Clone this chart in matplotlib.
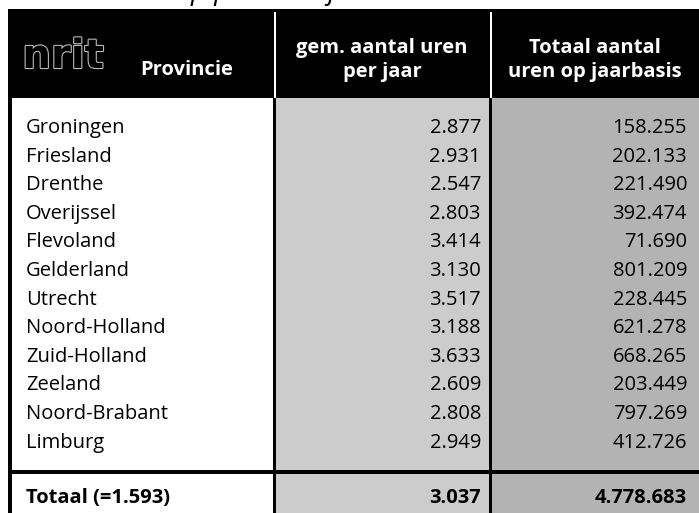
import matplotlib.pyplot as plt
import matplotlib.patheffects as pe
from matplotlib.patches import Rectangle

provincies = ["Groningen", "Friesland", "Drenthe", "Overijssel", "Flevoland",
              "Gelderland", "Utrecht", "Noord-Holland", "Zuid-Holland",
              "Zeeland", "Noord-Brabant", "Limburg"]
gem_uren = ["2.877", "2.931", "2.547", "2.803", "3.414", "3.130", "3.517",
            "3.188", "3.633", "2.609", "2.808", "2.949"]
totaal_uren = ["158.255", "202.133", "221.490", "392.474", "71.690", "801.209",
               "228.445", "621.278", "668.265", "203.449", "797.269", "412.726"]
totaal_label = "Totaal (=1.593)"
totaal_gem = "3.037"
totaal_tot = "4.778.683"
kop = ["Provincie", "gem. aantal uren\nper jaar", "Totaal aantal\nuren op jaarbasis"]
titel = "Tabel 1: Inzet op persoonlijk niveau van de leden in uren"

W, H = 699, 513
fig = plt.figure(figsize=(W / 100, H / 100), dpi=100)
ax = fig.add_axes([0, 0, 1, 1])
ax.set_xlim(0, W)
ax.set_ylim(H, 0)
ax.axis("off")

font = "Open Sans"
fs = 14.5

# column edges
x0, x1, x2, x3 = 8, 274, 490, W
top, head_bot = 9, 98

# body backgrounds
ax.add_patch(Rectangle((x1, head_bot), x2 - x1, H - head_bot, color="#cccccc", lw=0))
ax.add_patch(Rectangle((x2, head_bot), x3 - x2, H - head_bot, color="#b3b3b3", lw=0))
# borders in body
ax.add_patch(Rectangle((x0, head_bot), 4, H - head_bot, color="black", lw=0))
ax.add_patch(Rectangle((x1 - 1, head_bot), 3, H - head_bot, color="black", lw=0))
ax.add_patch(Rectangle((x2 - 1, head_bot), 3, H - head_bot, color="black", lw=0))
ax.add_patch(Rectangle((x0, 470), W - x0, 3.5, color="black", lw=0))

# header
ax.add_patch(Rectangle((x0, top), W - x0, head_bot - top, color="black", lw=0))
ax.add_patch(Rectangle((x1, top + 3), 2, head_bot - top - 3, color="white", lw=0))
ax.add_patch(Rectangle((x2, top + 3), 2, head_bot - top - 3, color="white", lw=0))

ax.text(63, 57, "nrit", color="black", fontsize=29, family="DejaVu Sans",
        fontweight="bold", ha="center", va="center", fontstretch="expanded",
        path_effects=[pe.Stroke(linewidth=1.6, foreground="#bbbbbb"), pe.Normal()])
ax.text(187, 70, kop[0], color="white", fontsize=fs, family=font,
        fontweight="bold", ha="center", va="center")
ax.text((x1 + x2) / 2, 60, kop[1], color="white", fontsize=fs, family=font,
        fontweight="bold", ha="center", va="center", linespacing=1.25)
ax.text((x2 + x3) / 2, 60, kop[2], color="white", fontsize=fs, family=font,
        fontweight="bold", ha="center", va="center", linespacing=1.25)

# title, cut off at the top edge (only descenders visible)
ax.text(6, -1, titel, fontsize=20, family=font, fontstyle="italic",
        ha="left", va="baseline", color="black")

# rows
y_first, dy = 128, 28.6
for i, (p, g, t) in enumerate(zip(provincies, gem_uren, totaal_uren)):
    y = y_first + i * dy
    ax.text(26, y, p, fontsize=fs, family=font, ha="left", va="center")
    ax.text(481, y, g, fontsize=fs, family=font, ha="right", va="center")
    ax.text(687, y, t, fontsize=fs, family=font, ha="right", va="center")

yt = 498
ax.text(26, yt, totaal_label, fontsize=fs, family=font, fontweight="bold",
        ha="left", va="center")
ax.text(481, yt, totaal_gem, fontsize=fs, family=font, fontweight="bold",
        ha="right", va="center")
ax.text(687, yt, totaal_tot, fontsize=fs, family=font, fontweight="bold",
        ha="right", va="center")

fig.savefig("out.png", dpi=100)
